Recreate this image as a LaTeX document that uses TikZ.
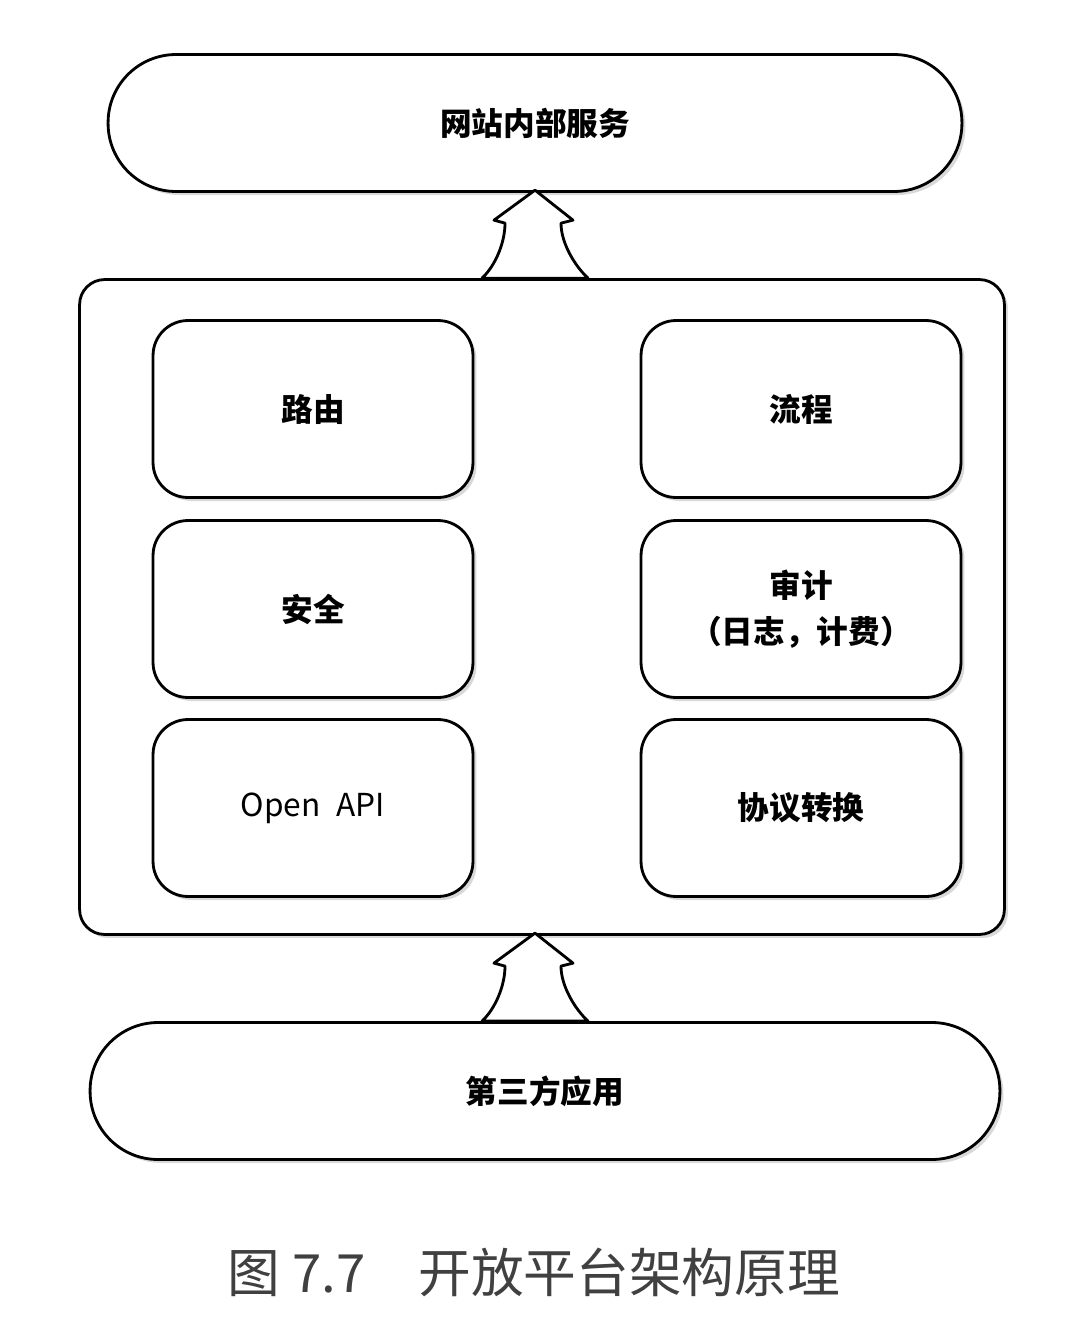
\documentclass[tikz,border=0pt]{standalone}
\usepackage{fontspec}
\setmainfont{Noto Sans CJK SC}
\usetikzlibrary{shadows}

\newcommand{\fatarrow}[1]{%
\begin{scope}[shift={(#1)}]
\draw[arrowline] (-53,0) .. controls (-40,-12) and (-30,-35) .. (-30,-55) -- (-41,-58) -- (0,-88)
  -- (38,-58) -- (26,-55) .. controls (26,-35) and (40,-12) .. (53,0) -- cycle;
\end{scope}}

\begin{document}
\begin{tikzpicture}[x=0.02cm, y=-0.02cm, line width=1.6pt,
  shade/.style={drop shadow={opacity=0.3, shadow xshift=2pt, shadow yshift=-2pt}},
  pill/.style={draw, fill=white, shade, rounded corners=1.36cm, minimum height=2.74cm, font=\fontsize{18}{22}\selectfont\bfseries},
  module/.style={draw, fill=white, shade, rounded corners=0.7cm, minimum width=6.4cm, minimum height=3.54cm, align=center, font=\fontsize{18}{26}\selectfont\bfseries},
  arrowline/.style={draw, fill=white, line join=round}]
\useasboundingbox (0,0) rectangle (1075,1325);

\node [pill, minimum width=17.08cm] (top) at (535,123) {网站内部服务};
\node [draw, fill=white, shade, rounded corners=0.5cm, minimum width=18.5cm, minimum height=13.1cm] (outer) at (542,607) {};

\node [module] (m1) at (313,409) {路由};
\node [module] (m2) at (313,609) {安全};
\node [module] (m3) at (313,808) {\mdseries Open\enspace API};
\node [module] (m4) at (801,409) {流程};
\node [module] (m5) at (801,609) {审计\\（日志，计费）};
\node [module] (m6) at (801,808) {协议转换};

\node [pill, minimum width=18.2cm] (bottom) at (545,1091) {第三方应用};

\fatarrow{top.south |- outer.north}
\fatarrow{top.south |- bottom.north}

\node [text=black!75, font=\fontsize{30}{34}\selectfont] (caption) at (534,1272) {图 7.7\quad 开放平台架构原理};
\end{tikzpicture}
\end{document}
